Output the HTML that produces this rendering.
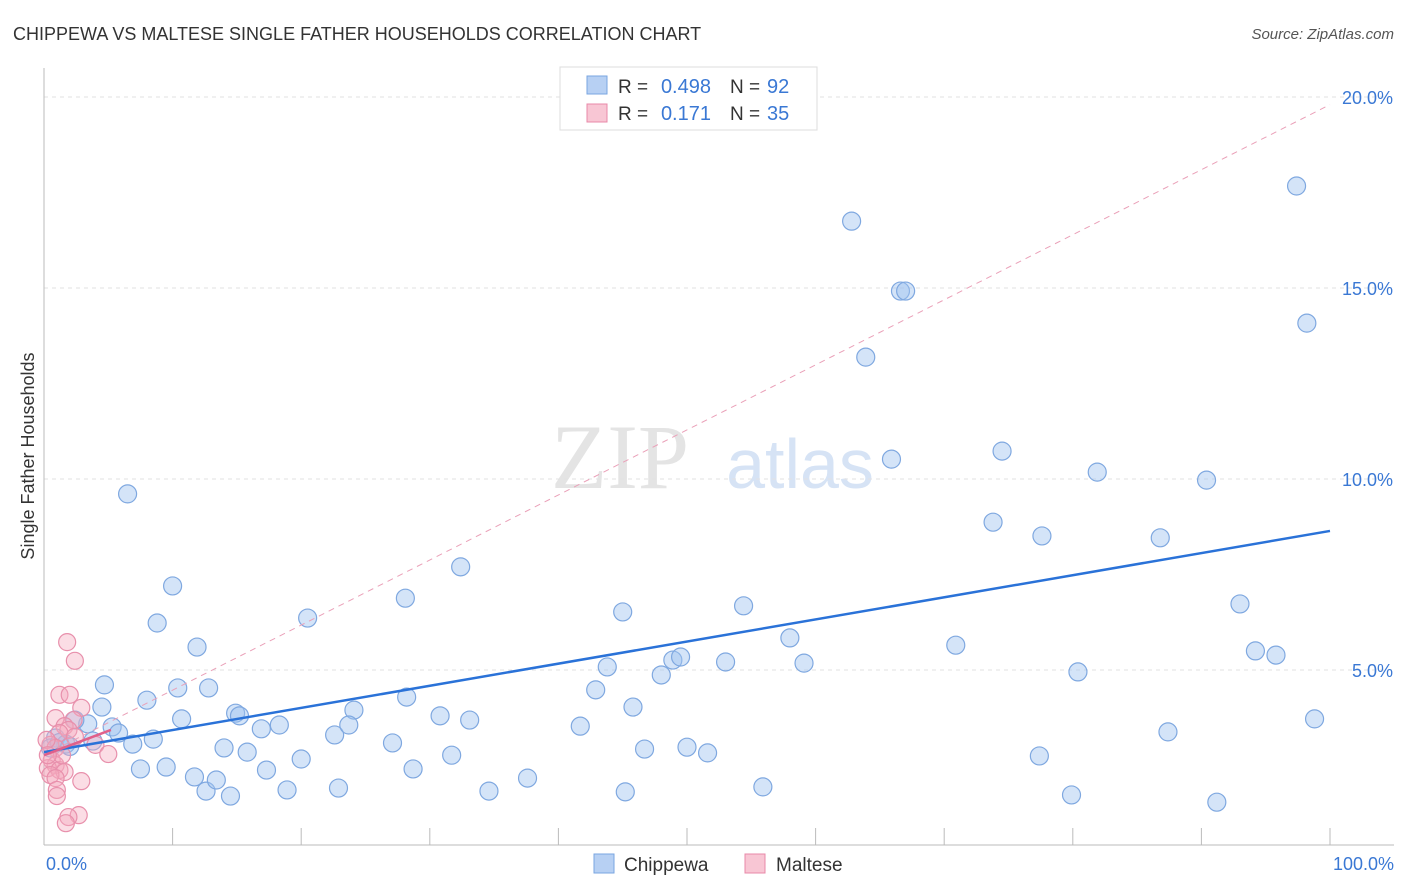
<!DOCTYPE html>
<html><head><meta charset="utf-8"><style>
body{margin:0;background:#fff;font-family:"Liberation Sans",sans-serif;}
svg{display:block}
</style></head><body>
<svg width="1406" height="892" xmlns="http://www.w3.org/2000/svg">
<text x="13" y="40" font-size="18" fill="#333">CHIPPEWA VS MALTESE SINGLE FATHER HOUSEHOLDS CORRELATION CHART</text>
<text x="1394" y="39" font-size="15" fill="#555" font-style="italic" text-anchor="end">Source: ZipAtlas.com</text>
<text x="620" y="488" font-size="92" fill="#e4e4e4" font-family="Liberation Serif" text-anchor="middle">ZIP</text>
<text x="800" y="488" font-size="70" fill="#d6e3f5" text-anchor="middle">atlas</text>
<g id="grid"></g>
<g id="axes"></g>
<g id="marks"></g>
<text transform="translate(34,456) rotate(-90)" font-size="18" fill="#333" text-anchor="middle">Single Father Households</text>
<text x="46" y="870" font-size="18" fill="#3a78d4">0.0%</text>
<text x="1394" y="870" font-size="18" fill="#3a78d4" text-anchor="end">100.0%</text>
<g>
<rect x="560" y="67" width="257" height="63" fill="#fff" stroke="#ddd"/>
<rect x="587" y="76" width="20" height="18" fill="#b7d0f3" stroke="#7aa6e0"/>
<rect x="587" y="104" width="20" height="18" fill="#f8c6d4" stroke="#e888a8"/>
<text x="618" y="93" font-size="19" fill="#333">R =</text>
<text x="711" y="93" font-size="20" fill="#3a78d4" text-anchor="end">0.498</text>
<text x="730" y="93" font-size="19" fill="#333">N =</text>
<text x="767" y="93" font-size="20" fill="#3a78d4">92</text>
<text x="618" y="120" font-size="19" fill="#333">R =</text>
<text x="711" y="120" font-size="20" fill="#3a78d4" text-anchor="end">0.171</text>
<text x="730" y="120" font-size="19" fill="#333">N =</text>
<text x="767" y="120" font-size="20" fill="#3a78d4">35</text>
</g>
<g>
<rect x="594" y="854" width="20" height="19" fill="#b7d0f3" stroke="#7aa6e0"/>
<text x="624" y="871" font-size="19" fill="#333">Chippewa</text>
<rect x="745" y="854" width="20" height="19" fill="#f8c6d4" stroke="#e888a8"/>
<text x="776" y="871" font-size="19" fill="#333">Maltese</text>
</g>
</svg>
<script>
const yTicks=[5,10,15,20];
const yTickLabels=["5.0%","10.0%","15.0%","20.0%"];
const xTicks=[10,20,30,40,50,60,70,80,90,100];
const chippewaX=[6.5,10.0,8.8,11.9,4.7,8.0,10.4,12.8,4.5,3.4,2.4,5.3,5.8,0.9,1.7,3.8,6.9,8.5,10.7,14.9,15.2,16.9,18.3,14.0,15.8,7.5,9.5,11.7,12.6,13.4,14.5,17.3,18.9,20.0,20.5,24.1,22.6,23.7,22.9,28.1,28.2,27.1,28.7,30.8,31.7,33.1,32.4,34.6,37.6,41.7,42.9,43.8,45.0,45.2,45.8,46.7,48.0,48.9,49.5,50.0,51.6,53.0,54.4,55.9,58.0,59.1,62.8,63.9,65.9,66.6,67.0,70.9,73.8,74.5,77.4,77.6,79.9,80.4,81.9,86.8,87.4,90.4,91.2,93.0,94.2,95.8,97.4,98.2,98.8,0.5,1.2,2.0];
const chippewaY=[9.61,7.20,6.23,5.60,4.61,4.21,4.53,4.53,4.03,3.59,3.69,3.51,3.35,3.22,3.06,3.14,3.06,3.19,3.72,3.87,3.80,3.46,3.56,2.96,2.85,2.41,2.46,2.20,1.83,2.12,1.70,2.38,1.86,2.67,6.36,3.95,3.30,3.56,1.91,6.88,4.29,3.09,2.41,3.80,2.77,3.69,7.70,1.83,2.17,3.53,4.48,5.08,6.52,1.81,4.03,2.93,4.87,5.26,5.34,2.98,2.83,5.21,6.68,1.94,5.84,5.18,16.75,13.19,10.52,14.92,14.92,5.65,8.87,10.73,2.75,8.51,1.73,4.95,10.18,8.46,3.38,9.97,1.54,6.73,5.50,5.39,17.67,14.08,3.72,2.96,3.10,3.00];
const malteseX=[1.8,2.4,1.2,2.0,2.9,0.9,2.3,1.6,1.9,1.2,2.4,0.5,0.9,4.0,5.0,0.6,0.9,0.3,1.2,1.6,0.5,0.9,2.9,1.0,1.0,2.7,1.9,1.7,1.4,0.2,0.3];
const malteseY=[5.73,5.24,4.35,4.35,4.01,3.74,3.69,3.53,3.43,3.35,3.25,3.04,2.96,3.04,2.80,2.64,2.51,2.43,2.38,2.33,2.25,2.17,2.09,1.86,1.70,1.20,1.15,0.99,2.77,3.17,2.77];
const chippewaTrend=[2.85,8.64];
const malteseTrend=[2.77,3.43,5.2];
const malteseDashedEnd=19.8;

const NS="http://www.w3.org/2000/svg";
const xs=v=>44+v*12.86;
const ys=v=>861-v*38.2;
function mk(tag,attrs,parent){const e=document.createElementNS(NS,tag);for(const k in attrs)e.setAttribute(k,attrs[k]);document.getElementById(parent).appendChild(e);return e;}
yTicks.forEach((t,i)=>{
 const l=mk('line',{x1:44,x2:1394,y1:ys(t),y2:ys(t),stroke:'#e2e2e2','stroke-dasharray':'4,4'},'grid');
 
 
 const tx=mk('text',{x:1393,y:ys(t)+7,'font-size':18,fill:'#3a78d4','text-anchor':'end'},'grid');
 tx.textContent=yTickLabels[i];
 
 
});
const ya=mk('line',{x1:44,x2:44,y1:68,y2:845,stroke:'#bbb'},'axes');


const xa=mk('line',{x1:44,x2:1394,y1:845,y2:845,stroke:'#bbb'},'axes');


xTicks.forEach(t=>{
 const l=mk('line',{x1:xs(t),x2:xs(t),y1:828,y2:845,stroke:'#bbb'},'axes');
 
 
});
chippewaX.forEach((x,i)=>{
 const c=mk('circle',{cx:xs(x),cy:ys(chippewaY[i]),r:9,fill:'rgba(160,196,240,0.45)',stroke:'#7fa8e0','stroke-width':1.2},'marks');
 
 
});
malteseX.forEach((x,i)=>{
 const c=mk('circle',{cx:xs(x),cy:ys(malteseY[i]),r:8.5,fill:'rgba(245,170,190,0.4)',stroke:'#e890ac','stroke-width':1.2},'marks');
 
 
});
const d=mk('line',{x1:xs(0),y1:ys(malteseTrend[0]),x2:xs(100),y2:ys(malteseDashedEnd),stroke:'#eaa0b8','stroke-width':1,'stroke-dasharray':'6,5'},'marks');


const bt=mk('line',{x1:xs(0),y1:ys(chippewaTrend[0]),x2:xs(100),y2:ys(chippewaTrend[1]),stroke:'#2a72d8','stroke-width':2.5},'marks');


const pt=mk('line',{x1:xs(0),y1:ys(malteseTrend[0]),x2:xs(malteseTrend[2]),y2:ys(malteseTrend[1]),stroke:'#e0608a','stroke-width':2.5},'marks');


</script>
</body></html>
